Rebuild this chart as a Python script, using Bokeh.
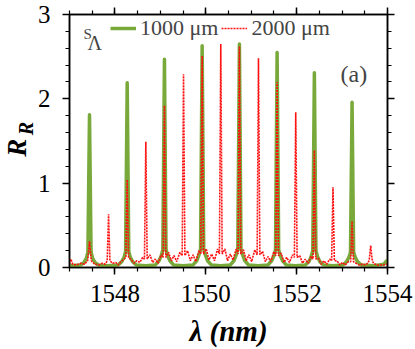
from bokeh.plotting import figure
from bokeh.models import Range1d, LinearAxis, SingleIntervalTicker, FixedTicker, Label, Legend, LegendItem
from bokeh.embed import file_html
from bokeh.resources import INLINE

# ---- data ----
# S_Lambda = 1000 um (green solid)
wl_1000 = [1547.00, 1547.24, 1547.32, 1547.37, 1547.405, 1547.44, 1547.475, 1547.51, 1547.56, 1547.64, 1547.85,
           1548.07, 1548.15, 1548.20, 1548.235, 1548.27, 1548.305, 1548.34, 1548.39, 1548.47, 1548.68,
           1548.89, 1548.97, 1549.02, 1549.055, 1549.09, 1549.125, 1549.16, 1549.21, 1549.29, 1549.50,
           1549.72, 1549.80, 1549.85, 1549.885, 1549.92, 1549.955, 1549.99, 1550.04, 1550.12, 1550.33,
           1550.54, 1550.62, 1550.67, 1550.705, 1550.74, 1550.775, 1550.81, 1550.86, 1550.94, 1551.16,
           1551.37, 1551.45, 1551.50, 1551.535, 1551.57, 1551.605, 1551.64, 1551.69, 1551.77, 1551.98,
           1552.19, 1552.27, 1552.32, 1552.355, 1552.39, 1552.425, 1552.46, 1552.51, 1552.59, 1552.80,
           1553.02, 1553.10, 1553.15, 1553.185, 1553.22, 1553.255, 1553.29, 1553.34, 1553.42, 1553.70,
           1553.92, 1554.00]
rr_1000 = [0.02, 0.03, 0.06, 0.11, 0.18, 1.81, 0.18, 0.11, 0.06, 0.03, 0.02,
           0.03, 0.07, 0.12, 0.19, 2.19, 0.19, 0.12, 0.07, 0.03, 0.02,
           0.03, 0.08, 0.14, 0.21, 2.47, 0.21, 0.14, 0.08, 0.03, 0.02,
           0.03, 0.08, 0.15, 0.22, 2.63, 0.22, 0.15, 0.08, 0.03, 0.02,
           0.03, 0.08, 0.15, 0.22, 2.65, 0.22, 0.15, 0.08, 0.03, 0.02,
           0.03, 0.08, 0.14, 0.21, 2.55, 0.21, 0.14, 0.08, 0.03, 0.02,
           0.03, 0.07, 0.13, 0.20, 2.31, 0.20, 0.13, 0.07, 0.03, 0.02,
           0.03, 0.07, 0.12, 0.18, 1.96, 0.18, 0.12, 0.07, 0.03, 0.02,
           0.04, 0.09]

# S_Lambda = 2000 um (red dotted)
wl_2000 = [1547.00, 1547.03, 1547.07, 1547.15, 1547.25, 1547.33, 1547.40, 1547.44, 1547.48, 1547.55,
           1547.65, 1547.72, 1547.79, 1547.83, 1547.86, 1547.89, 1547.95, 1548.02, 1548.07, 1548.13,
           1548.20, 1548.24, 1548.27, 1548.30, 1548.36, 1548.42, 1548.48, 1548.55, 1548.61, 1548.65,
           1548.68, 1548.71, 1548.77, 1548.83, 1548.89, 1548.95, 1549.02, 1549.06, 1549.09, 1549.12,
           1549.18, 1549.24, 1549.30, 1549.36, 1549.43, 1549.48, 1549.51, 1549.54, 1549.60, 1549.66,
           1549.72, 1549.78, 1549.85, 1549.89, 1549.92, 1549.95, 1550.01, 1550.07, 1550.13, 1550.19,
           1550.26, 1550.30, 1550.33, 1550.36, 1550.42, 1550.48, 1550.54, 1550.60, 1550.67, 1550.71,
           1550.74, 1550.77, 1550.83, 1550.89, 1550.95, 1551.01, 1551.08, 1551.13, 1551.16, 1551.19,
           1551.25, 1551.31, 1551.37, 1551.43, 1551.50, 1551.54, 1551.57, 1551.60, 1551.66, 1551.72,
           1551.78, 1551.84, 1551.91, 1551.95, 1551.98, 1552.01, 1552.07, 1552.13, 1552.19, 1552.25,
           1552.32, 1552.36, 1552.39, 1552.42, 1552.48, 1552.54, 1552.60, 1552.66, 1552.73, 1552.77,
           1552.80, 1552.83, 1552.89, 1552.95, 1553.01, 1553.07, 1553.14, 1553.19, 1553.22, 1553.25,
           1553.31, 1553.38, 1553.45, 1553.52, 1553.58, 1553.60, 1553.63, 1553.66, 1553.69, 1553.78,
           1553.90, 1554.00]
rr_2000 = [0.04, 0.10, 0.04, 0.03, 0.05, 0.04, 0.08, 0.31, 0.08, 0.04,
           0.03, 0.05, 0.04, 0.08, 0.63, 0.08, 0.05, 0.06, 0.03, 0.07,
           0.10, 0.12, 1.04, 0.12, 0.09, 0.05, 0.08, 0.06, 0.12, 0.10,
           1.49, 0.10, 0.15, 0.06, 0.10, 0.05, 0.15, 0.12, 1.92, 0.12,
           0.18, 0.08, 0.14, 0.07, 0.18, 0.14, 2.29, 0.14, 0.20, 0.08,
           0.15, 0.07, 0.20, 0.16, 2.51, 0.16, 0.22, 0.09, 0.16, 0.08,
           0.22, 0.16, 2.65, 0.16, 0.22, 0.08, 0.16, 0.09, 0.22, 0.16,
           2.62, 0.16, 0.21, 0.08, 0.15, 0.07, 0.21, 0.15, 2.48, 0.15,
           0.19, 0.07, 0.13, 0.07, 0.19, 0.14, 2.20, 0.14, 0.17, 0.06,
           0.12, 0.06, 0.15, 0.12, 1.84, 0.12, 0.14, 0.05, 0.10, 0.05,
           0.13, 0.10, 1.39, 0.10, 0.11, 0.04, 0.08, 0.04, 0.10, 0.08,
           0.95, 0.08, 0.08, 0.03, 0.06, 0.03, 0.07, 0.07, 0.55, 0.07,
           0.05, 0.03, 0.04, 0.03, 0.06, 0.10, 0.26, 0.10, 0.05, 0.03,
           0.03, 0.04]

x_min, x_max = 1547, 1554
y_min, y_max = 0, 3
legend_labels = ["1000 \u03bcm", "2000 \u03bcm"]
x_title = "\u03bb (nm)"
NBSP = "\u00a0"
y_title = "R" + NBSP * 2          # main letter sits a little below the centre
y_title_sub = NBSP * 5 + "R"      # subscript sits above the centre

GREEN = "#78a93a"
RED = "#ff1010"
SERIF = "Liberation Serif"

p = figure(width=425, height=349, output_backend="svg", toolbar_location=None,
           x_range=Range1d(x_min, x_max), y_range=Range1d(y_min, y_max),
           min_border_left=79, min_border_right=28, min_border_top=14, min_border_bottom=82,
           x_axis_type=None, y_axis_type=None)
p.styles = {"margin-left": "-10px"}
p.grid.visible = False
p.outline_line_color = "black"
p.outline_line_width = 1.5
p.background_fill_color = "white"
p.border_fill_color = "white"

xt = SingleIntervalTicker(interval=2, num_minor_ticks=4)
yt = SingleIntervalTicker(interval=1, num_minor_ticks=5)

def style(ax, labels=True):
    ax.axis_line_width = 1.5
    ax.axis_line_color = "black"
    ax.major_tick_in = 0
    ax.minor_tick_in = 0
    ax.major_tick_out = 7
    ax.minor_tick_out = 4
    ax.major_tick_line_width = 1.5
    ax.minor_tick_line_width = 1.2
    if labels:
        ax.major_label_text_font = SERIF
        ax.major_label_text_font_size = "25px"
        ax.major_label_text_color = "black"
    else:
        ax.major_label_text_font_size = "0px"
        ax.major_label_text_color = None
        ax.major_label_standoff = 0

bx = LinearAxis(ticker=xt); style(bx); bx.major_label_standoff = 10
bx.axis_label = x_title
bx.axis_label_text_font = SERIF
bx.axis_label_text_font_size = "29px"
bx.axis_label_text_font_style = "bold italic"
bx.axis_label_text_color = "black"
bx.axis_label_standoff = 10

# inner left axis carries the ticks and the subscript of the y title
lx = LinearAxis(ticker=yt); style(lx); lx.major_label_standoff = 12
lx.axis_label = y_title_sub
lx.axis_label_text_font = SERIF
lx.axis_label_text_font_size = "20px"
lx.axis_label_text_font_style = "bold italic"
lx.axis_label_text_color = "black"
lx.axis_label_standoff = -2

# outer left axis only carries the main letter of the y title
lx2 = LinearAxis(ticker=FixedTicker(ticks=[]))
lx2.axis_line_color = None
lx2.major_tick_out = 0
lx2.minor_tick_out = 0
lx2.major_tick_in = 0
lx2.minor_tick_in = 0
lx2.major_label_standoff = 0
lx2.major_label_text_font_size = "0px"
lx2.major_label_text_color = None
lx2.axis_label = y_title
lx2.axis_label_text_font = SERIF
lx2.axis_label_text_font_size = "27px"
lx2.axis_label_text_font_style = "bold italic"
lx2.axis_label_text_color = "black"
lx2.axis_label_standoff = -20

tx = LinearAxis(ticker=xt); style(tx, False)
rx = LinearAxis(ticker=yt); style(rx, False)
p.add_layout(bx, "below")
p.add_layout(lx, "left")
p.add_layout(lx2, "left")
p.add_layout(tx, "above")
p.add_layout(rx, "right")

g = p.line(wl_1000, rr_1000, line_color=GREEN, line_width=3.5, line_join="round")
r = p.line(wl_2000, rr_2000, line_color=RED, line_width=1.6, line_dash="2 1")

leg = Legend(items=[LegendItem(label=legend_labels[0], renderers=[g]),
                    LegendItem(label=legend_labels[1], renderers=[r])],
             orientation="horizontal", location=(41, 226),
             border_line_color=None, background_fill_alpha=0,
             padding=2, margin=0, spacing=3, label_standoff=4,
             glyph_width=26, glyph_height=20, label_height=20,
             label_text_font=SERIF, label_text_font_size="22px")
p.add_layout(leg, "center")

p.add_layout(Label(x=14, y=234, x_units="screen", y_units="screen", text="S",
                   text_font=SERIF, text_font_size="15px", text_baseline="alphabetic"))
p.add_layout(Label(x=18, y=225, x_units="screen", y_units="screen", text="\u039b",
                   text_font=SERIF, text_font_size="20px", text_baseline="alphabetic"))
p.add_layout(Label(x=271, y=194, x_units="screen", y_units="screen", text="(a)",
                   text_font=SERIF, text_font_size="24px", text_baseline="alphabetic"))

open("out.html", "w").write(file_html(p, INLINE))
